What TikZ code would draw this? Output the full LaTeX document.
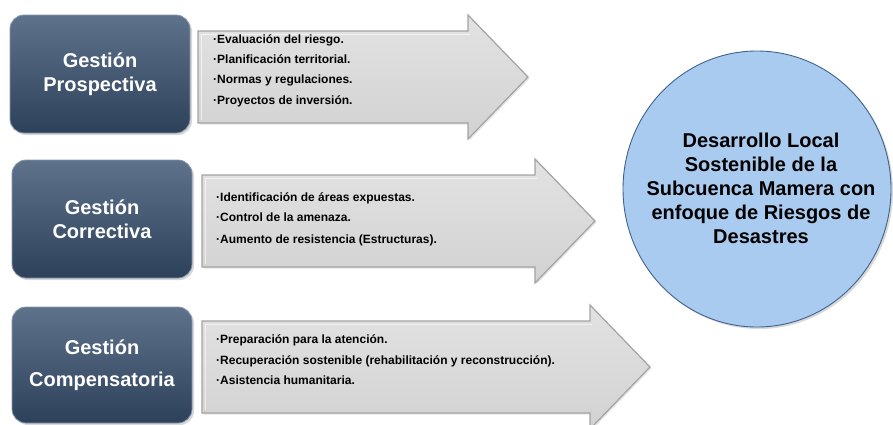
\documentclass[tikz,border=0pt]{standalone}
\usepackage{fontspec}
\setmainfont{Liberation Sans}
\usetikzlibrary{shadows,shapes.geometric}
\definecolor{boxtop}{HTML}{5F728B}
\definecolor{boxbot}{HTML}{2D415B}
\definecolor{boxedge}{HTML}{8797AD}
\definecolor{arrtop}{HTML}{E2E2E2}
\definecolor{arrbot}{HTML}{D2D2D2}
\definecolor{arredge}{HTML}{A3A3A3}
\definecolor{circfill}{HTML}{A9CBEF}
\definecolor{circedge}{HTML}{3F6391}
\tikzset{
  gbox/.style={rectangle, rounded corners=14pt, minimum width=180pt, inner sep=0pt,
    top color=boxtop, bottom color=boxbot, draw=boxedge, line width=0.8pt,
    text=white, align=center, font=\fontsize{20}{24}\selectfont\bfseries,
    drop shadow={shadow xshift=2pt, shadow yshift=-2pt, opacity=0.3}},
  garrow/.style={top color=arrtop, bottom color=arrbot, draw=arredge, line width=1.2pt, line join=miter,
    drop shadow={shadow xshift=1.5pt, shadow yshift=-1.5pt, opacity=0.2}},
  atext/.style={anchor=base west, inner sep=0pt, font=\fontsize{12}{14}\selectfont\bfseries, text=black},
  cnode/.style={ellipse, minimum width=268pt, minimum height=276pt, inner sep=0pt,
    fill=circfill, draw=circedge, line width=0.9pt,
    drop shadow={shadow xshift=2pt, shadow yshift=-2pt, opacity=0.3}},
  ctextstyle/.style={align=center, inner sep=0pt, font=\fontsize{20}{24}\selectfont\bfseries, text=black}
}
\newcommand\grayarrow[3]{% left x, head start x, center y
  \path[garrow] (#1,#3-46) -- (#2,#3-46) -- (#2,#3-62) -- (#2+60,#3) -- (#2,#3+62) -- (#2,#3+46) -- (#1,#3+46) -- cycle;
  \draw[white, opacity=0.6, line width=0.8pt] (#1+3,#3+43) -- (#1+3,#3-43) -- (#2+2,#3-43);
}
\begin{document}
\begin{tikzpicture}[x=1pt,y=-1pt]
\useasboundingbox[fill=white] (0,0) rectangle (893,424);

% arrows
\grayarrow{198}{468}{77}
\grayarrow{202}{535}{221}
\grayarrow{202}{590}{367}

% boxes
\node[gbox, minimum height=118pt] (g1) at (100,74) {Gestión\\Prospectiva};
\node[gbox, minimum height=118pt] (g2) at (102,219) {Gestión\\Correctiva};
\node[gbox, minimum height=116pt] (g3) at (102,365) {Gestión\\[8pt]Compensatoria};

% arrow texts
\node[atext] (t11) at (213,43.3) {·Evaluación del riesgo.};
\node[atext] (t12) at (213,63.3) {·Planificación territorial.};
\node[atext] (t13) at (213,83.3) {·Normas y regulaciones.};
\node[atext] (t14) at (213,104.3) {·Proyectos de inversión.};

\node[atext] (t21) at (216,201.3) {·Identificación de áreas expuestas.};
\node[atext] (t22) at (216,221.8) {·Control de la amenaza.};
\node[atext] (t23) at (216,243.3) {·Aumento de resistencia (Estructuras).};

\node[atext] (t31) at (216,343.3) {·Preparación para la atención.};
\node[atext] (t32) at (216,364.3) {·Recuperación sostenible (rehabilitación y reconstrucción).};
\node[atext] (t33) at (216,384.3) {·Asistencia humanitaria.};

% circle
\node[cnode] (c) at (757,189) {};
\node[ctextstyle] (ctext) at (761,188) {Desarrollo Local\\Sostenible de la\\Subcuenca Mamera con\\enfoque de Riesgos de\\Desastres};
\end{tikzpicture}
\end{document}
